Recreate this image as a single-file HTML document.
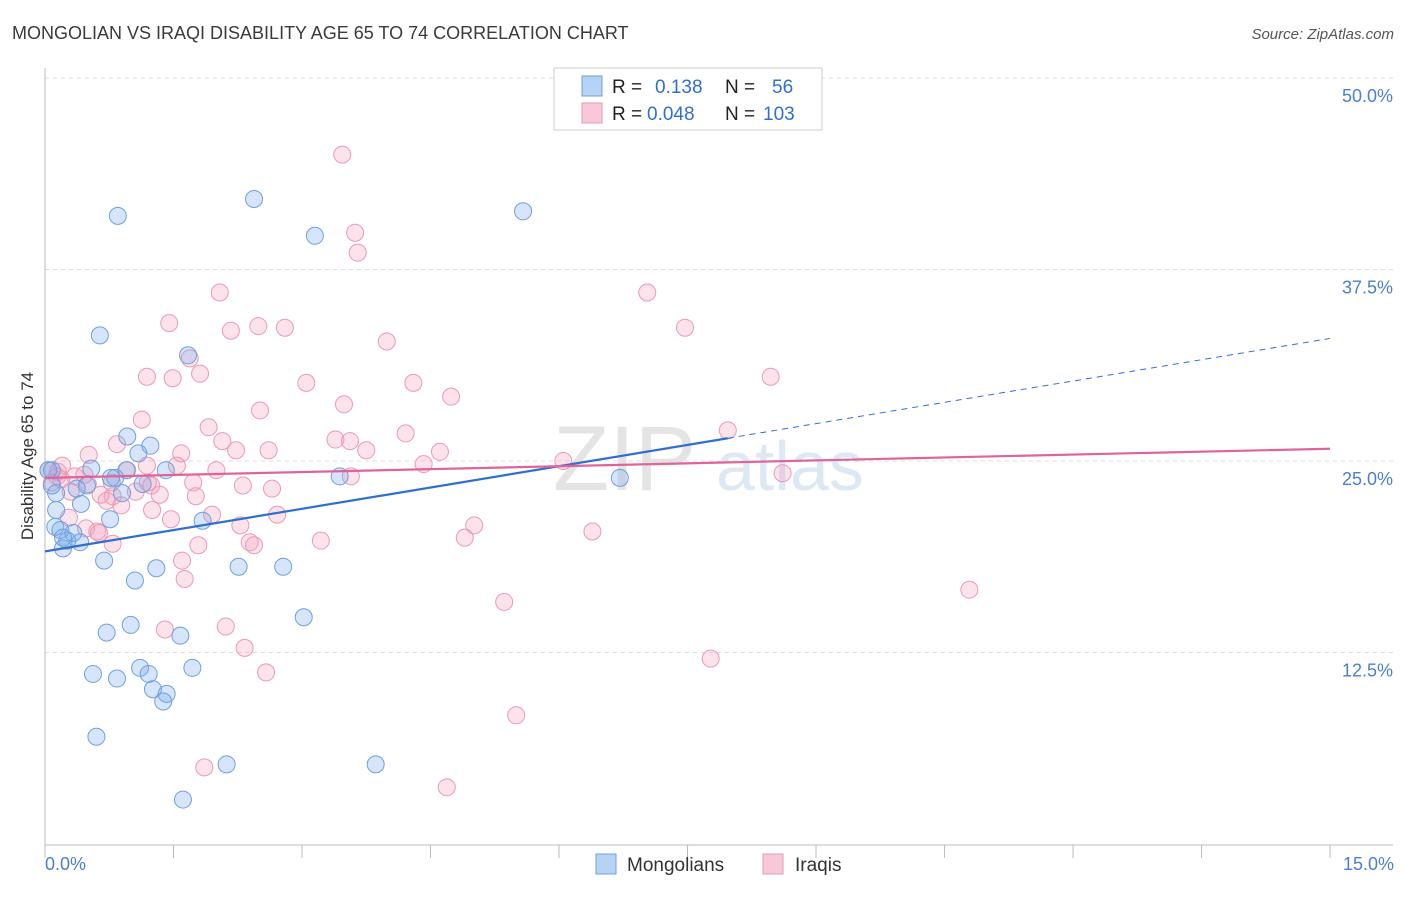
<!DOCTYPE html>
<html><head><meta charset="utf-8"><style>
body{margin:0;background:#fff;font-family:"Liberation Sans",sans-serif;}
svg text{font-family:"Liberation Sans",sans-serif;}
</style></head><body>
<svg id="chart" width="1406" height="892">
<text x="12" y="39" font-size="18" fill="#3a3a3a">MONGOLIAN VS IRAQI DISABILITY AGE 65 TO 74 CORRELATION CHART</text>
<text x="1394" y="39" font-size="15" fill="#555" text-anchor="end" font-style="italic">Source: ZipAtlas.com</text>
<text x="33" y="456" font-size="17" fill="#333" text-anchor="middle" transform="rotate(-90 33 456)">Disability Age 65 to 74</text>
<text x="553" y="490" font-size="92" fill="#e4e4e4" font-family="Liberation Serif">ZIP</text>
<text x="716" y="490" font-size="70" fill="#dde8f5">atlas</text>
<g id="grid"></g>
<g id="axes"></g>
<g id="pts"></g>
<g id="lines"></g>
<g>
<rect x="554" y="68" width="268" height="62" fill="#fff" stroke="#ccc"/>
<rect x="582" y="76" width="20" height="20" fill="#b6d3f5" stroke="#6fa0dc"/>
<rect x="582" y="103" width="20" height="20" fill="#f9c8d8" stroke="#e898b4"/>
<text x="612" y="93" font-size="19" fill="#222">R =</text>
<text x="655" y="93" font-size="19" fill="#2f6fd0">0.138</text>
<text x="725" y="93" font-size="19" fill="#222">N =</text>
<text x="772" y="93" font-size="19" fill="#2f6fd0">56</text>
<text x="612" y="120" font-size="19" fill="#222">R =</text>
<text x="647" y="120" font-size="19" fill="#2f6fd0">0.048</text>
<text x="725" y="120" font-size="19" fill="#222">N =</text>
<text x="763" y="120" font-size="19" fill="#2f6fd0">103</text>
</g>
<g>
<rect x="596" y="854" width="20" height="20" fill="#b6d3f5" stroke="#6fa0dc"/>
<text x="627" y="871" font-size="19" fill="#333">Mongolians</text>
<rect x="763" y="854" width="20" height="20" fill="#f9c8d8" stroke="#e898b4"/>
<text x="795" y="871" font-size="19" fill="#333">Iraqis</text>
</g>
<text x="45" y="870" font-size="18" fill="#4a7fd0">0.0%</text>
<text x="1394" y="870" font-size="18" fill="#4a7fd0" text-anchor="end">15.0%</text>
</svg>
<script>
const yTicks=[12.5,25,37.5,50];
const yTickLabels=["12.5%","25.0%","37.5%","50.0%"];
const xTicks=[0,1.5,3,4.5,6,7.5,9,10.5,12,13.5,15];
const monX=[0.85,2.44,3.15,5.58,0.64,1.67,0.96,1.23,1.09,0.54,0.08,0.82,0.49,0.95,1.41,1.14,0.90,0.77,0.13,0.42,0.13,0.76,1.84,0.12,0.18,0.33,0.26,0.41,0.21,0.69,1.05,1.30,2.26,2.78,3.44,6.71,0.72,1.00,1.58,3.02,0.56,0.84,1.11,1.21,1.72,1.26,1.42,1.38,0.60,2.12,3.86,1.61,0.08,0.21,0.37,0.04];
const monY=[41.0,42.1,39.7,41.3,33.2,31.9,26.6,26.0,25.5,24.5,24.4,23.9,23.4,24.4,24.4,23.5,22.9,23.9,22.9,22.2,21.8,21.2,21.1,20.7,20.5,20.3,19.8,19.7,19.3,18.5,17.2,18.0,18.1,18.1,24.0,23.9,13.8,14.3,13.6,14.8,11.1,10.8,11.5,11.1,11.5,10.1,9.8,9.3,7.0,5.2,5.2,2.9,23.4,20.0,23.2,24.4];
const iraX=[3.47,3.62,3.65,7.03,2.04,7.47,1.45,2.17,2.49,2.80,3.99,1.69,1.19,1.49,1.81,3.05,4.30,8.47,4.74,3.49,2.51,1.13,1.91,4.21,3.39,3.56,7.97,2.07,2.23,2.61,3.75,4.61,0.84,1.59,0.51,0.20,1.19,0.96,1.54,2.00,4.42,6.05,8.61,0.04,0.14,0.08,0.35,3.57,1.73,2.31,2.65,1.24,0.65,0.79,1.06,1.34,0.78,0.50,1.76,1.25,0.72,0.89,0.28,2.71,1.95,5.01,1.47,2.28,6.39,4.90,0.48,0.61,0.63,0.79,3.22,2.39,2.44,1.79,1.60,1.63,10.79,5.36,1.40,2.11,2.33,7.77,2.58,5.50,1.86,4.69,0.19,0.30,0.46,0.15,1.20];
const iraY=[45.0,39.9,38.6,36.0,36.0,33.7,34.0,33.5,33.8,33.7,32.8,31.7,30.5,30.4,30.7,30.1,30.1,30.5,29.2,28.7,28.3,27.7,27.2,26.8,26.4,26.3,27.0,26.3,25.7,25.7,25.7,25.6,26.1,25.5,25.4,24.7,24.7,24.4,24.7,24.4,24.8,25.0,24.2,24.4,24.0,23.6,24.0,24.0,23.6,23.4,23.2,23.4,22.8,22.7,23.0,22.8,23.6,23.5,22.7,21.8,22.4,22.1,21.3,21.5,21.5,20.8,21.2,20.8,20.4,20.0,20.6,20.4,20.3,19.6,19.8,19.7,19.5,19.5,18.5,17.3,16.6,15.8,14.0,14.2,12.8,12.1,11.2,8.4,5.0,3.7,23.8,23.0,24.1,24.3,23.6];
const monTrend=[19.1,33.0], monSolidEnd=7.97;
const iraTrend=[23.9,25.8];
const NS="http://www.w3.org/2000/svg";
const X=v=>45+v*85.67, Y=v=>844-v*15.32;
function mk(tag,attrs,parent){const e=document.createElementNS(NS,tag);for(const k in attrs)e.setAttribute(k,attrs[k]);parent.appendChild(e);return e;}
const grid=document.getElementById('grid'),axes=document.getElementById('axes'),pts=document.getElementById('pts'),lines=document.getElementById('lines');
yTicks.forEach((t,i)=>{
 const l=mk('line',{x1:45,x2:1393,y1:Y(t),y2:Y(t),stroke:'#ddd','stroke-dasharray':'4,4'},grid);
 
 
 const tx=mk('text',{x:1393,y:Y(t)+24,'font-size':18,fill:'#4a7fd0','text-anchor':'end'},grid);
 tx.textContent=yTickLabels[i];
 
 
});
let a=mk('line',{x1:45,x2:45,y1:68,y2:845,stroke:'#bbb'},axes);


a=mk('line',{x1:45,x2:1393,y1:845,y2:845,stroke:'#bbb'},axes);


xTicks.forEach(t=>{
 const l=mk('line',{x1:X(t),x2:X(t),y1:845,y2:858,stroke:'#bbb'},axes);
 
 
});
function dots(xs,ys,fill,stroke,name){
 xs.forEach((x,i)=>{
  const c=mk('circle',{cx:X(x),cy:Y(ys[i]),r:8.5,fill:fill,stroke:stroke,'stroke-width':1},pts);
  
  
 });
}
dots(iraX,iraY,'rgba(244,160,188,0.3)','#ea9ab5','iraqi-point');
dots(monX,monY,'rgba(120,170,235,0.3)','#6fa0dc','mongolian-point');
const at=(tr,x)=>tr[0]+(tr[1]-tr[0])*x/15;
let ln=mk('line',{x1:X(0),y1:Y(at(monTrend,0)),x2:X(monSolidEnd),y2:Y(at(monTrend,monSolidEnd)),stroke:'#2f6fd0','stroke-width':2.2},lines);


ln=mk('line',{x1:X(monSolidEnd),y1:Y(at(monTrend,monSolidEnd)),x2:X(15),y2:Y(at(monTrend,15)),stroke:'#2f6fd0','stroke-width':1,'stroke-dasharray':'6,5'},lines);


ln=mk('line',{x1:X(0),y1:Y(iraTrend[0]),x2:X(15),y2:Y(iraTrend[1]),stroke:'#e0649a','stroke-width':2.2},lines);


</script>
</body></html>
